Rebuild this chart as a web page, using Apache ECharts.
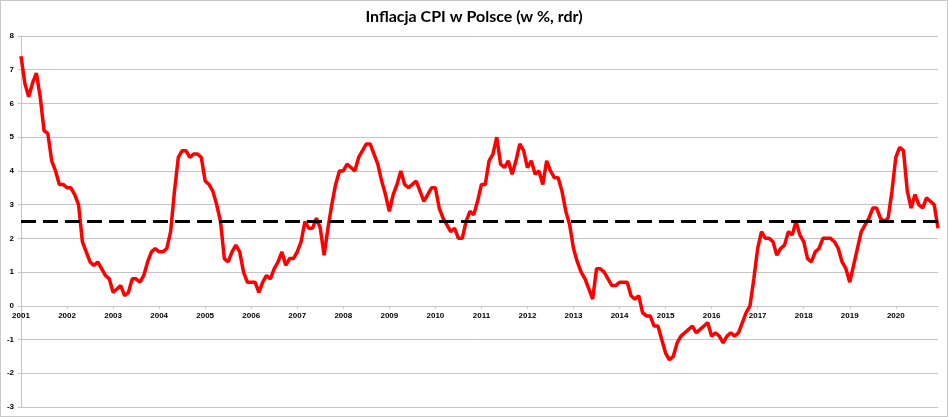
<!DOCTYPE html>
<html>
<head>
<meta charset="utf-8">
<script src="https://cdn.jsdelivr.net/npm/echarts@6/dist/echarts.min.js"></script>
<style>
  html, body { margin: 0; padding: 0; background: #fff; }
  #chart { width: 948px; height: 417px; box-sizing: border-box; border: 1px solid #c8c8c8; }
</style>
</head>
<body>
<div id="chart"></div>
<script>
// lata na osi X
var years = ['2001','2002','2003','2004','2005','2006','2007','2008','2009','2010',
             '2011','2012','2013','2014','2015','2016','2017','2018','2019','2020'];

// CPI r/r, miesiecznie (sty..gru) dla kolejnych lat
var cpi = [
  7.4, 6.6, 6.2, 6.6, 6.9, 6.2, 5.2, 5.1, 4.3, 4.0, 3.6, 3.6,   // 2001
  3.5, 3.5, 3.3, 3.0, 1.9, 1.6, 1.3, 1.2, 1.3, 1.1, 0.9, 0.8,   // 2002
  0.4, 0.5, 0.6, 0.3, 0.4, 0.8, 0.8, 0.7, 0.9, 1.3, 1.6, 1.7,   // 2003
  1.6, 1.6, 1.7, 2.2, 3.4, 4.4, 4.6, 4.6, 4.4, 4.5, 4.5, 4.4,   // 2004
  3.7, 3.6, 3.4, 3.0, 2.5, 1.4, 1.3, 1.6, 1.8, 1.6, 1.0, 0.7,   // 2005
  0.7, 0.7, 0.4, 0.7, 0.9, 0.8, 1.1, 1.3, 1.6, 1.2, 1.4, 1.4,   // 2006
  1.6, 1.9, 2.5, 2.3, 2.3, 2.6, 2.3, 1.5, 2.3, 3.0, 3.6, 4.0,   // 2007
  4.0, 4.2, 4.1, 4.0, 4.4, 4.6, 4.8, 4.8, 4.5, 4.2, 3.7, 3.3,   // 2008
  2.8, 3.3, 3.6, 4.0, 3.6, 3.5, 3.6, 3.7, 3.4, 3.1, 3.3, 3.5,   // 2009
  3.5, 2.9, 2.6, 2.4, 2.2, 2.3, 2.0, 2.0, 2.5, 2.8, 2.7, 3.1,   // 2010
  3.6, 3.6, 4.3, 4.5, 5.0, 4.2, 4.1, 4.3, 3.9, 4.3, 4.8, 4.6,   // 2011
  4.1, 4.3, 3.9, 4.0, 3.6, 4.3, 4.0, 3.8, 3.8, 3.4, 2.8, 2.4,   // 2012
  1.7, 1.3, 1.0, 0.8, 0.5, 0.2, 1.1, 1.1, 1.0, 0.8, 0.6, 0.6,   // 2013
  0.7, 0.7, 0.7, 0.3, 0.2, 0.3, -0.2, -0.3, -0.3, -0.6, -0.6, -1.0, // 2014
  -1.4, -1.6, -1.5, -1.1, -0.9, -0.8, -0.7, -0.6, -0.8, -0.7, -0.6, -0.5, // 2015
  -0.9, -0.8, -0.9, -1.1, -0.9, -0.8, -0.9, -0.8, -0.5, -0.2, 0.0, 0.8, // 2016
  1.7, 2.2, 2.0, 2.0, 1.9, 1.5, 1.7, 1.8, 2.2, 2.1, 2.5, 2.1,   // 2017
  1.9, 1.4, 1.3, 1.6, 1.7, 2.0, 2.0, 2.0, 1.9, 1.7, 1.3, 1.1,   // 2018
  0.7, 1.2, 1.7, 2.2, 2.4, 2.6, 2.9, 2.9, 2.6, 2.5, 2.6, 3.4,   // 2019
  4.4, 4.7, 4.6, 3.4, 2.9, 3.3, 3.0, 2.9, 3.2, 3.1, 3.0, 2.3    // 2020
];

// cel inflacyjny NBP
var target = 2.5;

var yTicks = { min: -3, max: 8, interval: 1 };

var categories = [];
years.forEach(function (y) {
  for (var m = 1; m <= 12; m++) {
    categories.push(y + '-' + (m < 10 ? '0' + m : m));
  }
});

var gridColor = '#c4c4c4';
var labelFont = 'Liberation Sans';

var option = {
  animation: false,
  title: {
    text: 'Inflacja CPI w Polsce (w %, rdr)',
    left: 'center',
    top: 3,
    textStyle: {
      fontFamily: 'Lato',
      fontWeight: 'bold',
      fontSize: 16,
      color: '#000'
    }
  },
  grid: {
    left: 20,
    right: 9,
    top: 35,
    bottom: 9,
    outerBoundsMode: 'none',
    containLabel: false
  },
  xAxis: {
    type: 'category',
    data: categories,
    boundaryGap: false,
    position: 'bottom',
    offset: 0,
    axisLine: { onZero: false, lineStyle: { color: gridColor, width: 1 } },
    axisTick: {
      show: true,
      length: 3,
      interval: function (i) { return i % 12 === 0; },
      lineStyle: { color: gridColor }
    },
    axisLabel: {
      interval: function (i) { return i % 12 === 0; },
      formatter: function (v) { return v.slice(0, 4); },
      fontFamily: labelFont,
      fontWeight: 'bold',
      fontSize: 8,
      color: '#000',
      margin: 6
    },
    splitLine: { show: false }
  },
  yAxis: {
    type: 'value',
    min: yTicks.min,
    max: yTicks.max,
    interval: yTicks.interval,
    axisLine: { show: true, lineStyle: { color: gridColor, width: 1 } },
    axisTick: { show: true, length: 3, lineStyle: { color: gridColor } },
    axisLabel: {
      fontFamily: labelFont,
      fontWeight: 'bold',
      fontSize: 8,
      color: '#000',
      margin: 7
    },
    splitLine: { show: true, lineStyle: { color: gridColor, width: 1 } }
  },
  series: [
    {
      name: 'CPI',
      type: 'line',
      data: cpi,
      symbol: 'none',
      smooth: false,
      lineStyle: { color: '#ff0000', width: 3.5 },
      z: 3,
      markLine: {
        silent: true,
        symbol: 'none',
        label: { show: false },
        lineStyle: { color: '#000', width: 2.8, type: [15, 7] },
        data: [{ yAxis: target }],
        z: 4
      }
    }
  ]
};

var myChart = echarts.init(document.getElementById('chart'));
myChart.setOption(option);

// os X (z etykietami) przesunieta na poziom 0, jak w Excelu
var yZero = myChart.convertToPixel({ yAxisIndex: 0 }, 0);
var yBottom = myChart.convertToPixel({ yAxisIndex: 0 }, yTicks.min);
myChart.setOption({ xAxis: { offset: yZero - yBottom } });
</script>
</body>
</html>
